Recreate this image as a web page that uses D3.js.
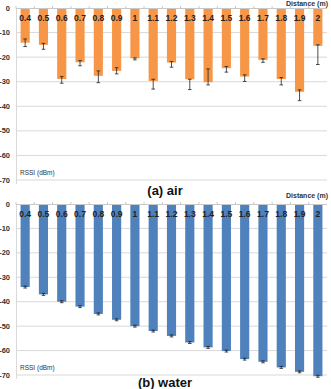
<!DOCTYPE html>
<html>
<head>
<meta charset="utf-8">
<script src="https://cdn.jsdelivr.net/npm/d3@7"></script>
<style>
  body { margin: 0; background: #fff; }
  svg text { font-family: "Liberation Sans", Arial, sans-serif; }
</style>
</head>
<body>
<svg id="chart" width="331" height="389"></svg>
<script>
// distances (m)
var distances = ["0.4","0.5","0.6","0.7","0.8","0.9","1","1.1","1.2","1.3","1.4","1.5","1.6","1.7","1.8","1.9","2"];
var yTicks = [0, -10, -20, -30, -40, -50, -60, -70];

// air RSSI, bar value + error bar ends
var airMean   = [-14.1, -15.0, -28.9, -22.1, -27.6, -25.6, -20.5, -29.7, -22.2, -29.0, -30.2, -24.5, -27.9, -21.1, -28.9, -34.1, -15.4];
var airErrTop = [-12.6, -14.4, -27.9, -21.4, -25.6, -24.3, -20.3, -29.0, -21.8, -29.0, -24.8, -23.8, -27.2, -20.7, -28.3, -33.3, -15.0];
var airErrBot = [-15.7, -16.8, -30.6, -23.5, -30.4, -26.8, -21.1, -33.0, -24.1, -33.2, -31.3, -26.1, -29.9, -22.1, -31.3, -37.7, -23.0];

// water RSSI
var waterMean = [-34, -37, -40, -42, -45, -47.4, -50, -52, -54, -56.7, -58.7, -60.2, -63.5, -64.6, -66.9, -68.7, -70.5];
var waterErr  = [0.4, 0.4, 0.4, 0.4, 0.4, 0.4, 0.4, 0.4, 0.4, 0.4, 0.4, 0.4, 0.4, 0.4, 0.4, 0.4, 0.4];

var svg = d3.select("#chart");

var x = d3.scaleBand()
    .domain(distances)
    .range([16, 327])
    .paddingInner(0.5)
    .paddingOuter(0.25);

function drawPanel(top, bottom, title, titleY, labelY, color, mean, errTop, errBot) {
    var y = d3.scaleLinear().domain([0, -70]).range([top, bottom]);
    var g = svg.append("g");

    // grid
    g.selectAll("line.grid").data(yTicks.slice(1))
        .join("line")
        .attr("class", "grid")
        .attr("x1", 16).attr("x2", 327)
        .attr("y1", d => y(d)).attr("y2", d => y(d))
        .attr("stroke", "#d9d9d9")
        .attr("stroke-width", 1);

    // left axis line
    g.append("line")
        .attr("x1", 16.5).attr("x2", 16.5)
        .attr("y1", y(0)).attr("y2", y(-70) + 4)
        .attr("stroke", "#d9d9d9");

    g.selectAll("text.ytick").data(yTicks)
        .join("text")
        .attr("class", "ytick")
        .attr("x", 10)
        .attr("y", d => y(d))
        .attr("dy", "0.35em")
        .attr("text-anchor", "end")
        .attr("font-size", 7.5)
        .attr("font-weight", "bold")
        .attr("fill", "#333")
        .text(d => d);

    // bars
    g.selectAll("rect.bar").data(mean)
        .join("rect")
        .attr("class", "bar")
        .attr("x", (d, i) => x(distances[i]))
        .attr("width", x.bandwidth())
        .attr("y", y(0))
        .attr("height", d => y(d) - y(0))
        .attr("fill", color);

    // error bars
    var cx = i => x(distances[i]) + x.bandwidth() / 2;
    var eb = g.selectAll("g.err").data(mean).join("g").attr("class", "err");
    eb.append("line")
        .attr("x1", (d, i) => cx(i)).attr("x2", (d, i) => cx(i))
        .attr("y1", (d, i) => y(errTop[i])).attr("y2", (d, i) => y(errBot[i]))
        .attr("stroke", "#222").attr("stroke-width", 0.8);
    eb.append("line")
        .attr("x1", (d, i) => cx(i) - 1.8).attr("x2", (d, i) => cx(i) + 1.8)
        .attr("y1", (d, i) => y(errTop[i])).attr("y2", (d, i) => y(errTop[i]))
        .attr("stroke", "#222").attr("stroke-width", 0.8);
    eb.append("line")
        .attr("x1", (d, i) => cx(i) - 1.8).attr("x2", (d, i) => cx(i) + 1.8)
        .attr("y1", (d, i) => y(errBot[i])).attr("y2", (d, i) => y(errBot[i]))
        .attr("stroke", "#222").attr("stroke-width", 0.8);

    // zero axis with small ticks
    g.append("line")
        .attr("x1", 16).attr("x2", 327)
        .attr("y1", y(0) + 0.5).attr("y2", y(0) + 0.5)
        .attr("stroke", "#c8c8c8");
    g.selectAll("line.xtick").data(distances)
        .join("line")
        .attr("class", "xtick")
        .attr("x1", d => x(d) - x.step() * 0.25).attr("x2", d => x(d) - x.step() * 0.25)
        .attr("y1", y(0) - 2).attr("y2", y(0) + 0.5)
        .attr("stroke", "#c8c8c8");

    // category labels
    g.selectAll("text.cat").data(distances)
        .join("text")
        .attr("class", "cat")
        .attr("x", d => x(d) + x.bandwidth() / 2)
        .attr("y", y(0) + 10)
        .attr("dy", "0.35em")
        .attr("text-anchor", "middle")
        .attr("font-size", 8.5)
        .attr("font-weight", "bold")
        .attr("fill", "#222")
        .text(d => d);

    g.append("text")
        .attr("x", 328)
        .attr("y", labelY)
        .attr("text-anchor", "end")
        .attr("font-size", 7)
        .attr("font-weight", "bold")
        .attr("fill", "#333")
        .text("Distance (m)");

    g.append("text")
        .attr("x", 20)
        .attr("y", y(-68))
        .attr("font-size", 6.5)
        .attr("fill", "#333")
        .text("RSSI (dBm)");

    g.append("text")
        .attr("x", 165)
        .attr("y", titleY)
        .attr("dy", "0.35em")
        .attr("text-anchor", "middle")
        .attr("font-size", 13)
        .attr("font-weight", "bold")
        .attr("fill", "#111")
        .text(title);
}

drawPanel(8, 180, "(a) air", 190, 6, "#f79646", airMean, airErrTop, airErrBot);
drawPanel(204, 375, "(b) water", 382, 198, "#4f81bd", waterMean,
    waterMean.map((d, i) => d + waterErr[i]),
    waterMean.map((d, i) => d - waterErr[i]));
</script>
</body>
</html>
